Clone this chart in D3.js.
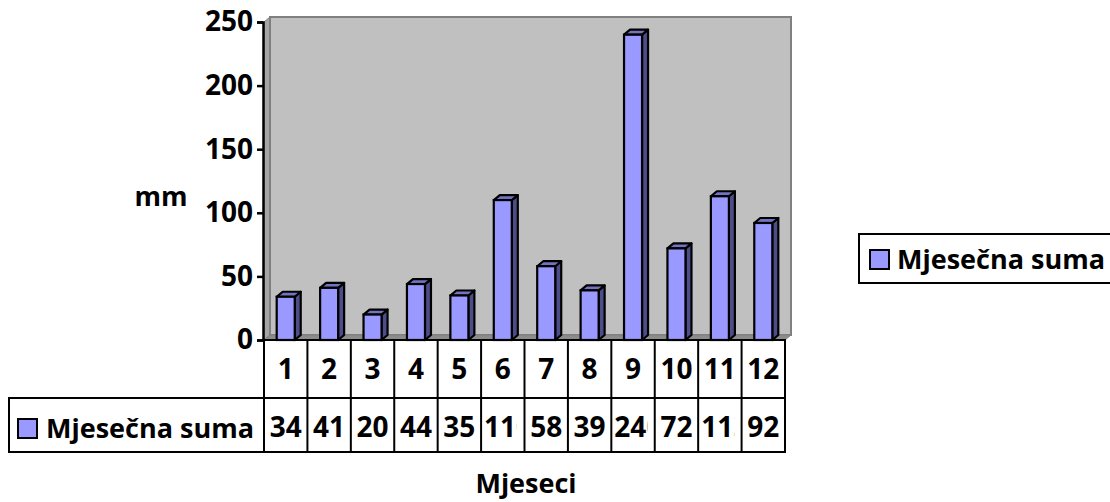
<!DOCTYPE html>
<html>
<head>
<meta charset="utf-8">
<script src="https://cdn.jsdelivr.net/npm/d3@7"></script>
<style>
  body { margin: 0; background: #fff; }
  text { font-family: "Open Sans", Lato, sans-serif; font-weight: bold; fill: #000; }
</style>
</head>
<body>
<div id="chart"></div>
<script>
// data
const months = ["1", "2", "3", "4", "5", "6", "7", "8", "9", "10", "11", "12"];
const monthlySum = [34, 41, 20, 44, 35, 110, 58, 39, 240, 72, 113, 92];
const yTicks = [0, 50, 100, 150, 200, 250];
const seriesName = "Mjesečna suma";
const yTitle = "mm";
const xTitle = "Mjeseci";

const width = 1110;
const height = 502;
const plot = { left: 264, right: 785, top: 22, bottom: 340 };
const depth = { dx: 6, dy: -5 };     // 3d offset of back wall
const barDepth = { dx: 6, dy: -5 };
const barStroke = 2.2;
const fontSize = 28;
const labelSize = 27;
const fontFamily = "'Open Sans', Lato, sans-serif";

const svg = d3.select("#chart").append("svg")
    .attr("width", width)
    .attr("height", height);

const x = d3.scaleBand()
    .domain(months)
    .range([plot.left, plot.right])
    .paddingInner(0.585)
    .paddingOuter(0.2925);

const cols = d3.scaleBand()
    .domain(months)
    .range([plot.left, plot.right])
    .padding(0);

const y = d3.scaleLinear()
    .domain([0, 250])
    .range([plot.bottom, plot.top]);

// walls
const x0 = plot.left, x1 = plot.right, yT = plot.top, yB = plot.bottom;
svg.append("polygon")  // left wall
    .attr("points", [[x0, yT], [x0 + depth.dx, yT + depth.dy], [x0 + depth.dx, yB + depth.dy], [x0, yB]].join(" "))
    .attr("fill", "#a6a6a6").attr("stroke", "#808080").attr("stroke-width", 1);
svg.append("rect")  // back wall
    .attr("x", x0 + depth.dx).attr("y", yT + depth.dy)
    .attr("width", x1 - x0).attr("height", yB - yT)
    .attr("fill", "#c0c0c0").attr("stroke", "#808080").attr("stroke-width", 2);
svg.append("polygon")  // floor
    .attr("points", [[x0, yB], [x0 + depth.dx, yB + depth.dy], [x1 + depth.dx, yB + depth.dy], [x1, yB]].join(" "))
    .attr("fill", "#8c8c8c").attr("stroke", "#808080").attr("stroke-width", 1);

// bars
const bars = svg.selectAll(".bar")
    .data(monthlySum)
    .enter()
    .append("g")
    .attr("class", "bar");

bars.append("polygon")  // side
    .attr("points", (d, i) => {
      const bx = x(months[i]) + x.bandwidth();
      return [[bx, y(d)], [bx + barDepth.dx, y(d) + barDepth.dy], [bx + barDepth.dx, y(0) + barDepth.dy], [bx, y(0)]].join(" ");
    })
    .attr("fill", "#4d4d8a").attr("stroke", "#000").attr("stroke-width", barStroke).attr("stroke-linejoin", "round");

bars.append("polygon")  // top
    .attr("points", (d, i) => {
      const bx = x(months[i]);
      const bw = x.bandwidth();
      return [[bx, y(d)], [bx + barDepth.dx, y(d) + barDepth.dy], [bx + bw + barDepth.dx, y(d) + barDepth.dy], [bx + bw, y(d)]].join(" ");
    })
    .attr("fill", "#7373bf").attr("stroke", "#000").attr("stroke-width", barStroke).attr("stroke-linejoin", "round");

bars.append("rect")  // front
    .attr("x", (d, i) => x(months[i]))
    .attr("y", d => y(d))
    .attr("width", x.bandwidth())
    .attr("height", d => y(0) - y(d))
    .attr("fill", "#9999ff").attr("stroke", "#000").attr("stroke-width", barStroke);

// y axis
const yAxis = svg.append("g")
    .attr("transform", "translate(" + (plot.left - 1) + ",0)")
    .call(d3.axisLeft(y).tickValues(yTicks).tickSize(6).tickPadding(4));
yAxis.select(".domain").attr("stroke", "#000").attr("stroke-width", 2.5);
yAxis.selectAll(".tick line").attr("stroke", "#000").attr("stroke-width", 2.5);
yAxis.selectAll(".tick text")
    .style("font-family", fontFamily)
    .style("font-weight", "bold")
    .style("font-size", fontSize + "px")
    .attr("fill", "#000");

svg.append("text")
    .attr("x", 161).attr("y", 206)
    .attr("text-anchor", "middle")
    .style("font-size", labelSize + "px")
    .text(yTitle);

// data table
const row1 = { top: 340, bottom: 398 };
const row2 = { top: 398, bottom: 452 };
const tableLeft = 9;
const table = svg.append("g");
const defs = svg.append("defs");

table.selectAll(".cat")
    .data(months)
    .enter()
    .append("text")
    .attr("class", "cat")
    .attr("x", d => cols(d) + cols.bandwidth() / 2)
    .attr("y", 379)
    .attr("text-anchor", "middle")
    .style("font-size", fontSize + "px")
    .text(d => d);

table.selectAll(".val")
    .data(monthlySum)
    .enter()
    .append("text")
    .attr("class", "val")
    .attr("x", (d, i) => cols(months[i]) + cols.bandwidth() / 2)
    .attr("y", 437)
    .attr("text-anchor", "middle")
    .style("font-size", fontSize + "px")
    .text(d => d)
    .each(function(d, i) {
      // too wide for the cell: start at the left edge and show only whole characters
      const cx = cols(months[i]);
      const room = cols.bandwidth() - 4;
      if (this.getComputedTextLength() > room) {
        const sel = d3.select(this).attr("text-anchor", "start").attr("x", cx + 3);
        const n = String(d).length;
        let k = n;
        while (k > 1 && this.getSubStringLength(0, k) > room) k--;
        const w = this.getSubStringLength(0, k);
        defs.append("clipPath").attr("id", "cell" + i)
          .append("rect")
          .attr("x", cx + 2).attr("y", row2.top)
          .attr("width", w + 2).attr("height", row2.bottom - row2.top);
        sel.attr("clip-path", "url(#cell" + i + ")");
      }
    });

// table grid lines
const grid = table.append("g").attr("stroke", "#000").attr("stroke-width", 2).attr("fill", "none");
grid.append("rect")
    .attr("x", plot.left).attr("y", row1.top)
    .attr("width", plot.right - plot.left).attr("height", row2.bottom - row1.top);
grid.append("rect")
    .attr("x", tableLeft).attr("y", row2.top)
    .attr("width", plot.left - tableLeft).attr("height", row2.bottom - row2.top);
grid.append("line")
    .attr("x1", plot.left).attr("x2", plot.right)
    .attr("y1", row2.top).attr("y2", row2.top);
grid.selectAll(".vline")
    .data(months.slice(1))
    .enter()
    .append("line")
    .attr("x1", d => cols(d)).attr("x2", d => cols(d))
    .attr("y1", row1.top).attr("y2", row2.bottom);

// legend key inside the table
table.append("rect")
    .attr("x", 18).attr("y", 419).attr("width", 19).attr("height", 19)
    .attr("fill", "#9999ff").attr("stroke", "#000").attr("stroke-width", 2);
table.append("text")
    .attr("x", 46).attr("y", 438)
    .style("font-size", labelSize + "px")
    .text(seriesName);

svg.append("text")
    .attr("x", 526).attr("y", 493)
    .attr("text-anchor", "middle")
    .style("font-size", labelSize + "px")
    .text(xTitle);

// legend on the right
const legend = svg.append("g");
legend.append("rect")
    .attr("x", 859).attr("y", 234).attr("width", 260).attr("height", 49)
    .attr("fill", "#fff").attr("stroke", "#000").attr("stroke-width", 2);
legend.append("rect")
    .attr("x", 870).attr("y", 250).attr("width", 19).attr("height", 19)
    .attr("fill", "#9999ff").attr("stroke", "#000").attr("stroke-width", 2);
legend.append("text")
    .attr("x", 897).attr("y", 269)
    .style("font-size", labelSize + "px")
    .text(seriesName);
</script>
</body>
</html>
